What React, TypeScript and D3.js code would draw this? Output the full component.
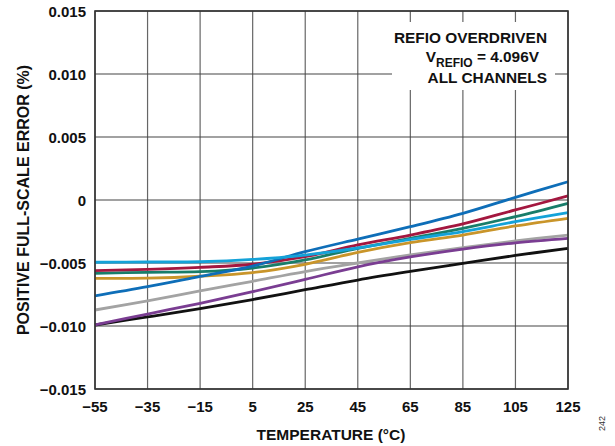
import React from "react";
import * as d3 from "d3";

const temps = [-55, -35, -15, 5, 25, 45, 65, 85, 105, 125];
const xTicks = [-55, -35, -15, 5, 25, 45, 65, 85, 105, 125];
const yTicks = [-0.015, -0.01, -0.005, 0, 0.005, 0.01, 0.015];
const yTickLabels = ["\u22120.015", "\u22120.010", "\u22120.005", "0", "0.005", "0.010", "0.015"];

const blackSeries = [-0.00992, -0.00928, -0.00862, -0.0079, -0.00712, -0.00635, -0.00567, -0.00503, -0.0044, -0.00384];
const graySeries = [-0.00873, -0.008, -0.00722, -0.00645, -0.00568, -0.005, -0.00435, -0.00378, -0.00325, -0.00278];
const purpleSeries = [-0.00992, -0.00905, -0.0082, -0.00728, -0.0063, -0.0053, -0.00452, -0.0039, -0.0034, -0.00304];
const goldSeries = [-0.00622, -0.0062, -0.00605, -0.00576, -0.0051, -0.00416, -0.00339, -0.00278, -0.00206, -0.00145];
const tealSeries = [-0.00582, -0.00574, -0.00569, -0.0054, -0.00476, -0.00384, -0.00304, -0.00225, -0.00132, -0.00026];
const crimsonSeries = [-0.00561, -0.0055, -0.00534, -0.0051, -0.0045, -0.00357, -0.00278, -0.0019, -0.00079, 0.00032];
const blueSeries = [-0.0076, -0.00688, -0.00606, -0.00524, -0.0041, -0.0031, -0.00212, -0.00106, 0.00021, 0.00145];
const cyanSeries = [-0.00494, -0.00492, -0.0049, -0.00472, -0.00437, -0.00381, -0.00312, -0.00251, -0.00172, -0.00101];

const seriesList = [
  { values: blackSeries, color: "#111111" },
  { values: graySeries, color: "#a3a3a3" },
  { values: purpleSeries, color: "#7a3d92" },
  { values: goldSeries, color: "#c9952a" },
  { values: tealSeries, color: "#187d6a" },
  { values: crimsonSeries, color: "#a3173f" },
  { values: blueSeries, color: "#0e6eb8" },
  { values: cyanSeries, color: "#14a2d8" },
];

const W = 615;
const H = 446;
const left = 95;
const right = 568;
const top = 11;
const bottom = 389;

export default function App() {
  const x = d3.scaleLinear().domain([-55, 125]).range([left, right]);
  const y = d3.scaleLinear().domain([-0.015, 0.015]).range([bottom, top]);
  const line = d3
    .line<number>()
    .x((_, i) => x(temps[i]))
    .y((d) => y(d))
    .curve(d3.curveCatmullRom.alpha(0.5));
  const font = "'Liberation Sans', Arial, sans-serif";

  return (
    <svg width={W} height={H} style={{ position: "absolute", left: 0, top: 0 }} fontFamily={font}>
      <rect x={0} y={0} width={W} height={H} fill="#fff" />
      {xTicks.map((t) => (
        <line key={"vx" + t} x1={x(t)} x2={x(t)} y1={top} y2={bottom} stroke="#666" strokeWidth={1.2} />
      ))}
      {yTicks.map((t) => (
        <line key={"hy" + t} x1={left} x2={right} y1={y(t)} y2={y(t)} stroke="#444" strokeWidth={1.2} />
      ))}
      <rect x={392} y={22} width={163} height={68} fill="#fff" />
      {seriesList.map((s, i) => (
        <path key={i} d={line(s.values) || ""} fill="none" stroke={s.color} strokeWidth={2.8} />
      ))}
      <rect x={left} y={top} width={right - left} height={bottom - top} fill="none" stroke="#333" strokeWidth={1.6} />
      {yTicks.map((t, i) => (
        <text key={"yl" + t} x={86} y={y(t) + 5.5} textAnchor="end" fontSize={15} fontWeight="bold" fill="#111">
          {yTickLabels[i]}
        </text>
      ))}
      {xTicks.map((t) => (
        <text key={"xl" + t} x={x(t)} y={412} textAnchor="middle" fontSize={15} fontWeight="bold" fill="#111">
          {t < 0 ? "\u2212" + Math.abs(t) : String(t)}
        </text>
      ))}
      <text x={331} y={440} textAnchor="middle" fontSize={15.5} fontWeight="bold" fill="#111">
        TEMPERATURE (°C)
      </text>
      <text
        transform="translate(29,200) rotate(-90)"
        textAnchor="middle"
        fontSize={16}
        fontWeight="bold"
        fill="#111"
      >
        POSITIVE FULL-SCALE ERROR (%)
      </text>
      <text x={547} y={43} textAnchor="end" fontSize={15.4} fontWeight="bold" fill="#111">
        REFIO OVERDRIVEN
      </text>
      <text x={539} y={62} textAnchor="end" fontSize={15.4} fontWeight="bold" fill="#111">
        V<tspan fontSize={12} dy={4.5}>REFIO</tspan>
        <tspan dy={-4.5}> = 4.096V</tspan>
      </text>
      <text x={547} y={83} textAnchor="end" fontSize={15.4} fontWeight="bold" fill="#111">
        ALL CHANNELS
      </text>
      <text transform="translate(605,431) rotate(-90)" fontSize={9} fill="#333">
        242
      </text>
    </svg>
  );
}
